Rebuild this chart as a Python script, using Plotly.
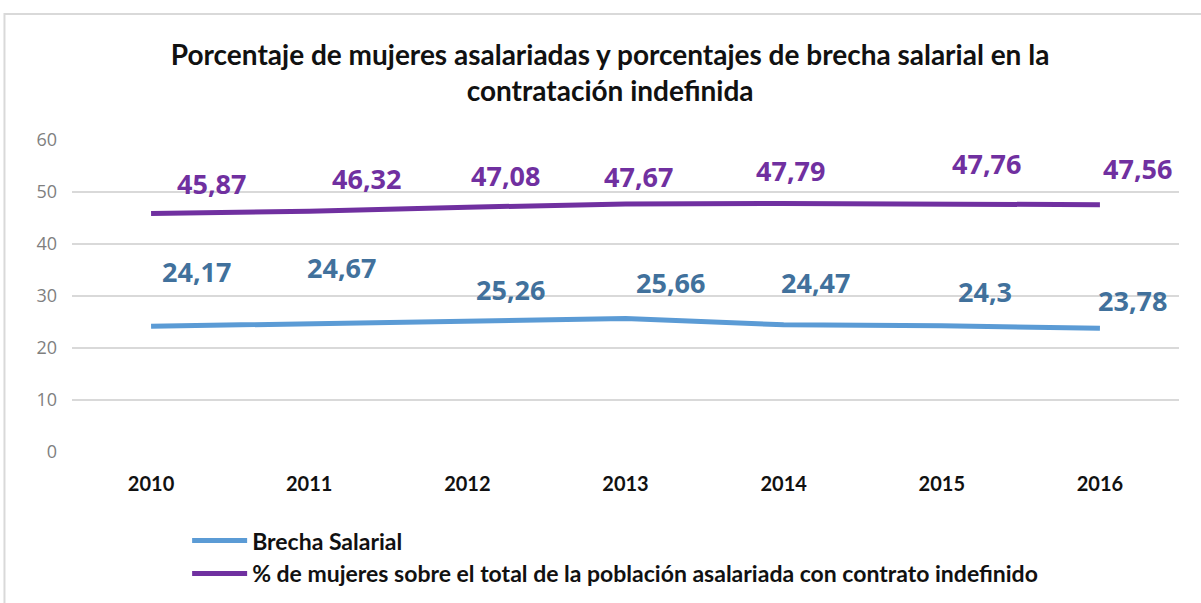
import plotly.graph_objects as go

years = ["2010", "2011", "2012", "2013", "2014", "2015", "2016"]
brecha = [24.17, 24.67, 25.26, 25.66, 24.47, 24.3, 23.78]
mujeres = [45.87, 46.32, 47.08, 47.67, 47.79, 47.76, 47.56]
brecha_labels = ["24,17", "24,67", "25,26", "25,66", "24,47", "24,3", "23,78"]
mujeres_labels = ["45,87", "46,32", "47,08", "47,67", "47,79", "47,76", "47,56"]
y_ticks = [0, 10, 20, 30, 40, 50, 60]

# label offsets (pixels) relative to each point
brecha_dx = [45, 32, 43, 45, 32, 43, 33]
brecha_dy = [55, 56, 31, 36, 42, 34, 28]
mujeres_dx = [60, 57, 38, 13, 7, 45, 38]
mujeres_dy = [30, 33, 32, 28, 33, 40, 36]

BLUE = "#5B9BD5"
BLUE_TXT = "#41719C"
PURPLE = "#7030A0"

fig = go.Figure()
fig.add_trace(go.Scatter(x=years, y=brecha, mode="lines", name="Brecha Salarial",
                         line=dict(color=BLUE, width=5)))
fig.add_trace(go.Scatter(x=years, y=mujeres, mode="lines",
                         name="% de mujeres sobre el total de la población asalariada con contrato indefinido",
                         line=dict(color=PURPLE, width=5)))

for ys, labs, dxs, dys, col in [
    (brecha, brecha_labels, brecha_dx, brecha_dy, BLUE_TXT),
    (mujeres, mujeres_labels, mujeres_dx, mujeres_dy, PURPLE),
]:
    for i, (y, t, dx, dy) in enumerate(zip(ys, labs, dxs, dys)):
        fig.add_annotation(x=i, y=y, xref="x", yref="y", text=t, showarrow=False,
                           xshift=dx, yshift=dy,
                           font=dict(family="Open Sans", size=27, color=col, weight="bold"))

fig.add_shape(type="rect", xref="paper", yref="paper", x0=-0.061, x1=1.05, y0=-0.7, y1=1.404,
              line=dict(color="#D9D9D9", width=2), fillcolor="rgba(0,0,0,0)", layer="below")

fig.update_layout(
    width=1201, height=603,
    margin=dict(l=72, r=22, t=140, b=151, autoexpand=False),
    paper_bgcolor="white", plot_bgcolor="white",
    title=dict(text="Porcentaje de mujeres asalariadas y porcentajes de brecha salarial en la<br>contratación indefinida",
               x=0.508, xanchor="center", y=0.893, yanchor="middle", yref="container",
               font=dict(family="Lato", size=28, color="#111111", weight="bold")),
    showlegend=True,
    legend=dict(x=0.104, y=-0.215, xanchor="left", yanchor="top", orientation="v",
                font=dict(family="Lato", size=23, color="#111111", weight="bold"),
                itemwidth=55, tracegroupgap=0, bgcolor="rgba(0,0,0,0)"),
    xaxis=dict(type="category", range=[-0.5, 6.5], showgrid=False, showline=False, ticks="",
               tickfont=dict(family="Lato", size=20, color="#111111", weight="bold"),
               ticklabelstandoff=18),
    yaxis=dict(range=[0, 60], tickvals=y_ticks, showgrid=True, gridcolor="#D9D9D9", gridwidth=2,
               zeroline=False, showline=False, ticks="",
               tickfont=dict(family="Open Sans", size=18, color="#7F7F7F"),
               ticklabelstandoff=14),
)

fig.write_html("out.html", config={"displayModeBar": False},
               post_script="document.body.style.margin='0px';")
